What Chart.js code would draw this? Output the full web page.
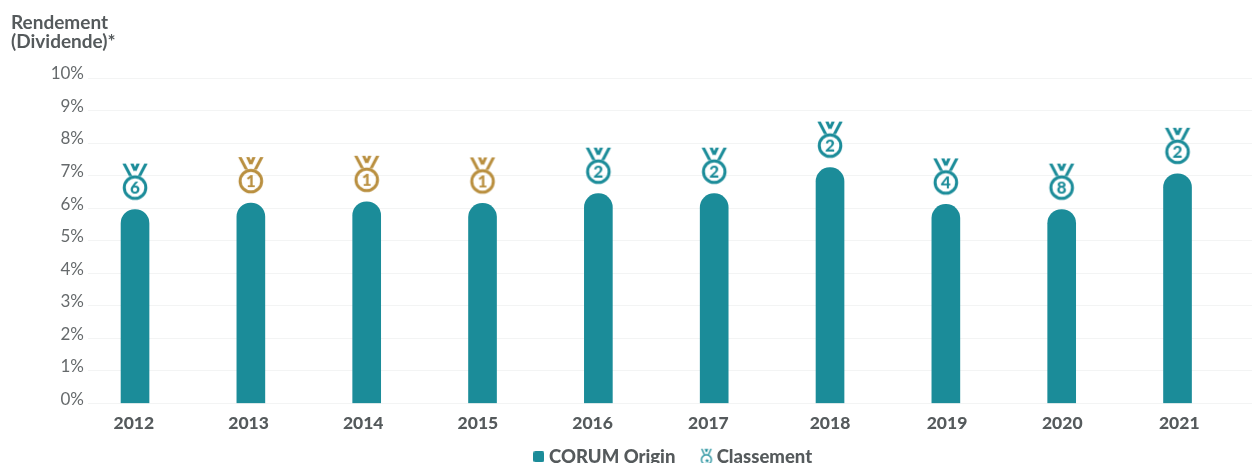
<!DOCTYPE html>
<html>
<head>
<meta charset="utf-8">
<title>Rendement</title>
<script src="https://cdn.jsdelivr.net/npm/chart.js@4/dist/chart.umd.min.js"></script>
<style>
  body { margin: 0; background: #fff; overflow: hidden; }
  #wrap { width: 1252px; height: 463px; }
</style>
</head>
<body>
<div id="wrap"><canvas id="rendementChart" width="1252" height="463"></canvas></div>
<script>
const years = [2012, 2013, 2014, 2015, 2016, 2017, 2018, 2019, 2020, 2021];
const rendement = [5.96, 6.16, 6.2, 6.15, 6.45, 6.45, 7.25, 6.12, 5.96, 7.06];
const classement = [6, 1, 1, 1, 2, 2, 2, 4, 8, 2];
const yTicks = [0, 1, 2, 3, 4, 5, 6, 7, 8, 9, 10];
// the year labels drift a little from their bars in the original
const yearLabelPos = [2011.99, 2012.98, 2013.97, 2014.96, 2015.95, 2016.95, 2018, 2019.01, 2020.005, 2021.015];

const TEAL = '#1b8c99';
const GOLD = '#b98f3f';
const GREY = '#555a5c';
const FONT = 'Lato, sans-serif';

// medal drawn on a tall canvas so its point sits at the top of the bar
function drawMedal(c, cx, cy, r, lw, color, mark) {
    c.strokeStyle = color;
    c.fillStyle = color;
    c.lineWidth = lw;
    c.beginPath();
    c.arc(cx, cy, r, 0, Math.PI * 2);
    c.stroke();
    const k = r / 10.8;
    const top = cy - 24 * k;
    c.save();
    c.beginPath();
    c.rect(cx - 16 * k, top, 32 * k, 12.5 * k);
    c.clip();
    c.beginPath();
    c.moveTo(cx - 12 * k, top - 2);
    c.lineTo(cx - 3.5 * k, cy - r + 1);
    c.moveTo(cx + 12 * k, top - 2);
    c.lineTo(cx + 3.5 * k, cy - r + 1);
    c.moveTo(cx - 4 * k, top - 2);
    c.lineTo(cx, top + 7 * k);
    c.moveTo(cx + 4 * k, top - 2);
    c.lineTo(cx, top + 7 * k);
    c.stroke();
    c.restore();
    c.textAlign = 'center';
    c.textBaseline = 'middle';
    c.font = mark.font;
    c.fillText(mark.text, cx, cy + 1);
}

function medalImage(rank) {
    const cv = document.createElement('canvas');
    cv.width = 40;
    cv.height = 100;
    drawMedal(cv.getContext('2d'), 20, 28, 10.8, 3, rank === 1 ? GOLD : TEAL, {
        text: String(rank),
        font: '900 17px ' + FONT
    });
    return cv;
}

function legendMedal() {
    const cv = document.createElement('canvas');
    cv.width = 14;
    cv.height = 20;
    drawMedal(cv.getContext('2d'), 7, 13, 5, 1.3, TEAL, { text: '\u2605', font: '6px ' + FONT });
    return cv;
}

function legendSquare() {
    const cv = document.createElement('canvas');
    cv.width = 11;
    cv.height = 11;
    const c = cv.getContext('2d');
    c.fillStyle = TEAL;
    c.beginPath();
    c.roundRect(0, 0, 11, 11, 2);
    c.fill();
    return cv;
}

const legendNudge = {
    id: 'legendNudge',
    afterLayout(c) {
        c.legend.left += 5;
        c.legend.right += 5;
    }
};

const ctx = document.getElementById('rendementChart').getContext('2d');
const chart = new Chart(ctx, {
    plugins: [legendNudge],
    data: {
        datasets: [
            {
                type: 'bar',
                label: 'CORUM Origin',
                data: years.map((y, i) => ({ x: y, y: rendement[i] })),
                backgroundColor: TEAL,
                barThickness: 28,
                borderRadius: { topLeft: 14, topRight: 14 },
                borderSkipped: 'bottom',
                order: 2
            },
            {
                type: 'line',
                label: 'Classement',
                data: years.map((y, i) => ({ x: y, y: rendement[i] })),
                showLine: false,
                pointStyle: classement.map(medalImage),
                pointRadius: 10,
                clip: false,
                order: 1
            }
        ]
    },
    options: {
        responsive: false,
        animation: false,
        layout: { autoPadding: false, padding: { left: 11, top: 13, right: 0, bottom: -13 } },
        plugins: {
            tooltip: { enabled: false },
            title: {
                display: true,
                text: ['Rendement', '(Dividende)*'],
                align: 'start',
                color: GREY,
                font: { family: FONT, size: 19, weight: 'bold', lineHeight: 1.03 },
                padding: { top: 0, bottom: 26 }
            },
            legend: {
                position: 'bottom',
                fullSize: false,
                labels: {
                    usePointStyle: true,
                    pointStyleWidth: 2,
                    color: GREY,
                    font: { family: FONT, size: 18.5, weight: 900 },
                    padding: 30,
                    generateLabels: () => [
                        { text: 'CORUM Origin', pointStyle: legendSquare(), fontColor: GREY, datasetIndex: 0 },
                        { text: 'Classement', pointStyle: legendMedal(), fontColor: GREY, datasetIndex: 1 }
                    ]
                }
            }
        },
        scales: {
            x: {
                type: 'linear',
                offset: false,
                min: 2011.594,
                max: 2021.643,
                grid: { display: false },
                border: { display: false },
                afterBuildTicks: axis => {
                    axis.ticks = yearLabelPos.map((v, i) => ({ value: v, label: String(years[i]) }));
                },
                afterFit: axis => {
                    axis.height = 14;
                    axis.paddingLeft = 0;
                    axis.paddingRight = 0;
                },
                ticks: {
                    color: GREY,
                    autoSkip: false,
                    maxRotation: 0,
                    // mirror turns off the label clipping, so the axis box can stay short
                    mirror: true,
                    padding: -30,
                    font: { family: FONT, size: 17.5, weight: 900 },
                    callback: (v, i) => String(years[i])
                }
            },
            y: {
                min: 0,
                max: 10,
                afterFit: axis => { axis.width = 77; },
                afterBuildTicks: axis => {
                    axis.ticks = yTicks.map(v => ({ value: v }));
                },
                grid: { color: '#f3f4f4', lineWidth: 1, drawTicks: false },
                border: { display: false },
                ticks: {
                    color: '#666a6c',
                    padding: 4,
                    autoSkip: false,
                    font: { family: FONT, size: 17, lineHeight: 0.5 },
                    // blank second line nudges the label above its grid line
                    callback: v => [v + '%', '']
                }
            }
        }
    }
});
</script>
</body>
</html>
